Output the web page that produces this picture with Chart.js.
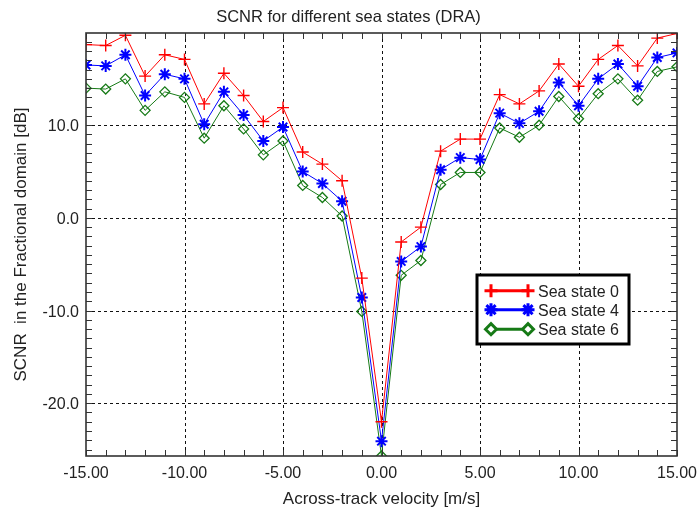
<!DOCTYPE html>
<html><head><meta charset="utf-8">
<script src="https://cdn.jsdelivr.net/npm/chart.js@4/dist/chart.umd.min.js"></script>
<style>html,body{margin:0;padding:0;background:#fff}#wrap{width:697px;height:516px}</style>
</head><body><div id="wrap"><canvas id="c" width="697" height="516"></canvas></div>
<script>
const velocity = [-15,-14,-13,-12,-11,-10,-9,-8,-7,-6,-5,-4,-3,-2,-1,0,1,2,3,4,5,6,7,8,9,10,11,12,13,14,15];
const seaState0 = [18.7,18.6,19.7,15.3,17.6,17.1,12.3,15.6,13.2,10.4,11.9,7.1,5.8,4.0,-6.5,-22.0,-2.6,-1.0,7.2,8.5,8.5,13.3,12.3,13.7,16.6,14.2,17.1,18.6,16.4,19.4,19.9];
const seaState4 = [16.5,16.4,17.6,13.2,15.5,15.0,10.1,13.6,11.1,8.3,9.8,5.0,3.7,1.8,-8.6,-24.1,-4.7,-3.1,5.2,6.5,6.3,11.3,10.2,11.5,14.6,12.1,15.0,16.6,14.2,17.3,17.8];
const seaState6 = [14.0,13.9,15.0,11.6,13.6,13.0,8.6,12.1,9.6,6.8,8.3,3.5,2.2,0.2,-10.1,-25.7,-6.2,-4.6,3.6,4.9,4.9,9.7,8.7,10.0,13.1,10.7,13.4,15.0,12.7,15.8,16.3];
const seriesNames = ['Sea state 0','Sea state 4','Sea state 6'];
const xTicks = [-15,-10,-5,0,5,10,15];
const yTicks = [-20,-10,0,10];
const titleText = 'SCNR for different sea states (DRA)';
const xTitle = 'Across-track velocity [m/s]';
const yTitle = 'SCNR  in the Fractional domain [dB]';

const FONT = '"Liberation Sans", Arial, Helvetica, sans-serif';
const TXT = '#222';
const styles = [
  {color:'#ff0000', pointStyle:'cross', radius:6, pw:1.4},
  {color:'#0000ff', pointStyle:'star', radius:6, pw:2},
  {color:'#167a16', pointStyle:'rectRot', radius:5, pw:1.3}
];
const vals = [seaState0, seaState4, seaState6];
const datasets = vals.map((arr,i)=>({
  label: seriesNames[i],
  data: velocity.map((v,j)=>({x:v,y:arr[j]})),
  borderColor: styles[i].color,
  backgroundColor: 'rgba(0,0,0,0)',
  borderWidth: 1,
  pointStyle: styles[i].pointStyle,
  pointRadius: styles[i].radius,
  pointBorderColor: styles[i].color,
  pointBackgroundColor: 'rgba(0,0,0,0)',
  pointBorderWidth: styles[i].pw,
  tension: 0
}));

const deco = {
  id:'deco',
  beforeDatasetsDraw(chart){
    const {ctx, chartArea:a, scales:{x,y}} = chart;
    ctx.save();
    ctx.strokeStyle = '#111'; ctx.lineWidth = 1; ctx.setLineDash([3,3]);
    xTicks.forEach(v=>{ if(v>-15 && v<15){ const p=Math.round(x.getPixelForValue(v))+0.5; ctx.beginPath(); ctx.moveTo(p,a.top); ctx.lineTo(p,a.bottom); ctx.stroke(); }});
    yTicks.forEach(v=>{ const p=Math.round(y.getPixelForValue(v))+0.5; ctx.beginPath(); ctx.moveTo(a.left,p); ctx.lineTo(a.right,p); ctx.stroke(); });
    ctx.restore();
  },
  afterDatasetsDraw(chart){
    const {ctx, chartArea:a, scales:{x,y}} = chart;
    ctx.save();
    ctx.strokeStyle = '#333'; ctx.lineWidth = 1;
    const tl = 6;
    for(let v=-15; v<=15; v++){
      const p=Math.round(x.getPixelForValue(v))+0.5;
      ctx.beginPath(); ctx.moveTo(p,a.bottom); ctx.lineTo(p,a.bottom-tl); ctx.moveTo(p,a.top); ctx.lineTo(p,a.top+tl); ctx.stroke();
    }
    for(let v=-25; v<=19; v++){
      const p=Math.round(y.getPixelForValue(v))+0.5;
      ctx.beginPath(); ctx.moveTo(a.left,p); ctx.lineTo(a.left+tl,p); ctx.moveTo(a.right,p); ctx.lineTo(a.right-tl,p); ctx.stroke();
    }
    ctx.lineWidth = 1.6; ctx.strokeStyle = '#333';
    ctx.strokeRect(a.left, a.top, a.right-a.left, a.bottom-a.top);
    ctx.restore();
  },
  afterDraw(chart){
    const {ctx, chartArea:a, scales:{x,y}} = chart;
    ctx.save();
    ctx.fillStyle = TXT;
    ctx.font = '16.5px '+FONT; ctx.textAlign='center'; ctx.textBaseline='alphabetic';
    ctx.fillText(titleText, 348.5, 21.5);
    ctx.font = '16px '+FONT;
    xTicks.forEach(v=>{ ctx.fillText(v.toFixed(2), x.getPixelForValue(v), 478); });
    ctx.textAlign='right';
    yTicks.forEach(v=>{ ctx.fillText(v.toFixed(1), a.left-7, y.getPixelForValue(v)+6); });
    ctx.font = '17px '+FONT;
    ctx.textAlign='center';
    ctx.fillText(xTitle, (a.left+a.right)/2, 504);
    ctx.save(); ctx.translate(25.5,(a.top+a.bottom)/2); ctx.rotate(-Math.PI/2);
    ctx.fillText(yTitle, 0, 0); ctx.restore();
    const L=477, T=275, R=629, B=344;
    ctx.fillStyle='#fff'; ctx.fillRect(L,T,R-L,B-T);
    ctx.lineWidth=3; ctx.strokeStyle='#000'; ctx.strokeRect(L,T,R-L,B-T);
    const rows=[290.7,309.7,329.2];
    rows.forEach((ry,i)=>{
      const s=styles[i];
      ctx.strokeStyle=s.color; ctx.lineWidth=3;
      ctx.beginPath(); ctx.moveTo(491,ry); ctx.lineTo(528,ry); ctx.stroke();
      [491,528].forEach(px=>{
        ctx.fillStyle='#fff'; ctx.strokeStyle=s.color;
        Chart.helpers.drawPoint(ctx,{pointStyle:s.pointStyle,radius:s.radius+0.5,rotation:0,borderWidth:s.pw+1.4},px,ry);
      });
      ctx.fillStyle=TXT; ctx.font='16px '+FONT; ctx.textAlign='left';
      ctx.fillText(seriesNames[i], 538, ry+6);
    });
    ctx.restore();
  }
};

new Chart(document.getElementById('c'), {
  type:'line',
  data:{datasets},
  options:{
    responsive:false, animation:false, devicePixelRatio:1,
    layout:{padding:{top:33,right:20,left:0,bottom:0}, autoPadding:false},
    plugins:{legend:{display:false}, title:{display:false}, tooltip:{enabled:false}},
    scales:{
      x:{type:'linear', min:-15, max:15,
         ticks:{display:false, stepSize:5},
         grid:{display:false}, border:{display:false},
         afterFit(s){ s.height = 60; }},
      y:{type:'linear', min:-25.7, max:19.95,
         ticks:{display:false, stepSize:10},
         grid:{display:false}, border:{display:false},
         afterFit(s){ s.width = 86; }}
    }
  },
  plugins:[deco]
});
</script>
</body></html>
